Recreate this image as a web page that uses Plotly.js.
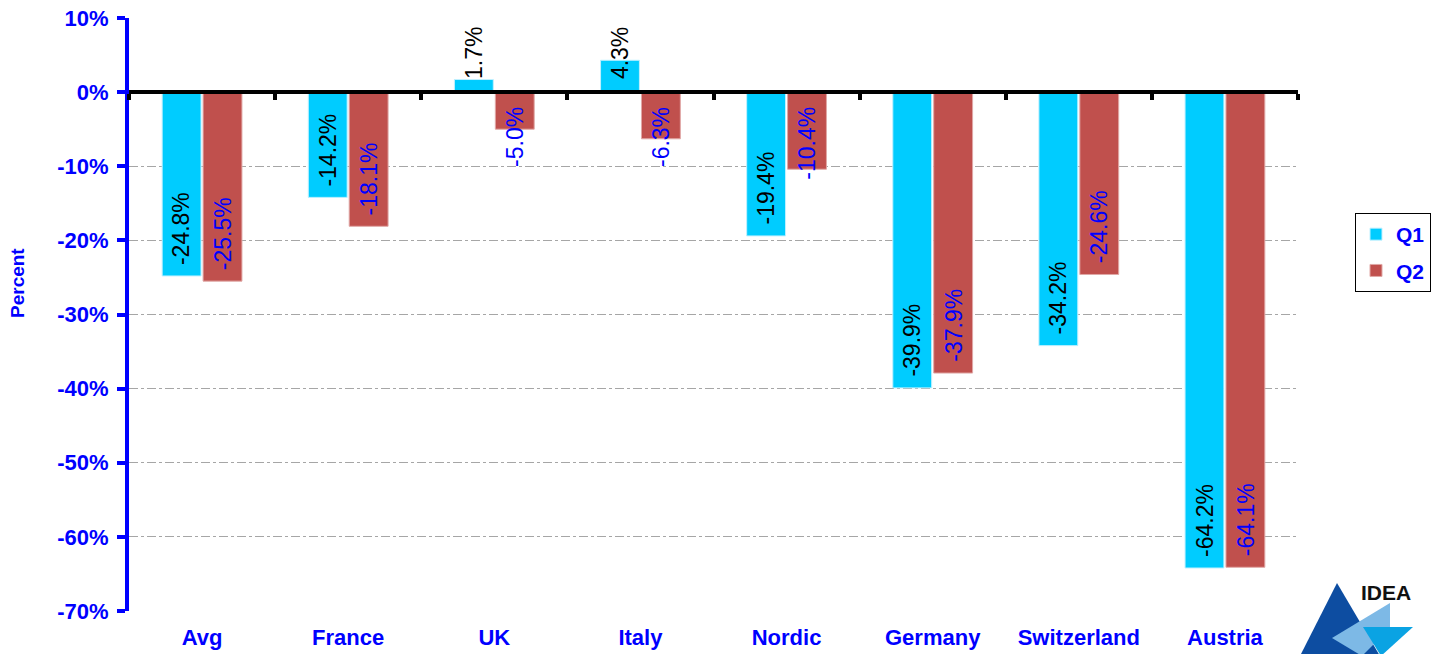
<!DOCTYPE html>
<html>
<head>
<meta charset="utf-8">
<script src="https://cdn.plot.ly/plotly-3.0.1.min.js"></script>
<style>
  html, body { margin: 0; padding: 0; background: #ffffff; }
  #chart { width: 1437px; height: 654px; }
</style>
</head>
<body>
<div id="chart"></div>
<script>
const categories = ["Avg", "France", "UK", "Italy", "Nordic", "Germany", "Switzerland", "Austria"];
const q1Values = [-24.8, -14.2, 1.7, 4.3, -19.4, -39.9, -34.2, -64.2];
const q2Values = [-25.5, -18.1, -5.0, -6.3, -10.4, -37.9, -24.6, -64.1];
const seriesNames = ["Q1", "Q2"];
const yTickValues = [10, 0, -10, -20, -30, -40, -50, -60, -70];
const yTickLabels = ["10%", "0%", "-10%", "-20%", "-30%", "-40%", "-50%", "-60%", "-70%"];

const W = 1437, H = 654;
const margin = { l: 129, r: 139, t: 18, b: 43 };
const plotW = W - margin.l - margin.r;
const plotH = H - margin.t - margin.b;
const yMin = -70, yMax = 10;
const pxPerUnit = plotH / (yMax - yMin);

const BLUE = "#0000FF";
const Q1C = "#00CCFF";
const Q2C = "#C0504D";
const FONT = "Liberation Sans, Arial, sans-serif";

const bargap = 0.44;
const slot = (plotW / categories.length) * (1 - bargap) / 2;

function labelAnn(cat, v, seriesIdx) {
  const txt = v.toFixed(1) + "%";
  const textLen = txt.length * 12.5;
  const barLen = Math.abs(v) * pxPerUnit;
  const ann = {
    x: cat, xref: "x", yref: "y",
    text: txt, showarrow: false, textangle: -90,
    font: { family: FONT, size: 23, color: seriesIdx === 0 ? "#000000" : BLUE },
    xanchor: "center",
    xshift: seriesIdx === 0 ? -slot / 2 : slot / 2
  };
  if (v >= 0) {
    ann.y = 0; ann.yanchor = "bottom"; ann.yshift = 11;
  } else if (barLen >= textLen + 25) {
    ann.y = v; ann.yanchor = "bottom"; ann.yshift = 9;
  } else {
    ann.y = 0; ann.yanchor = "top"; ann.yshift = -13;
  }
  return ann;
}

const annotations = [];
categories.forEach((c, i) => {
  annotations.push(labelAnn(c, q1Values[i], 0));
  annotations.push(labelAnn(c, q2Values[i], 1));
});

// y-axis title
annotations.push({
  xref: "paper", yref: "paper",
  x: (17 - margin.l) / plotW, y: (H - margin.b - 283) / plotH,
  text: "<b>Percent</b>", showarrow: false, textangle: -90,
  font: { family: FONT, size: 19, color: BLUE },
  xanchor: "center", yanchor: "middle"
});

// logo helpers (pixel -> paper)
function px(X) { return (X - margin.l) / plotW; }
function py(Y) { return (H - margin.b - Y) / plotH; }
function poly(pts) {
  return "M" + pts.map(p => px(p[0]) + "," + py(p[1])).join(" L") + " Z";
}
const shapes = [
  { type: "path", xref: "paper", yref: "paper", layer: "above",
    path: poly([[1337, 583], [1300, 656], [1380, 656]]),
    fillcolor: "#0D4DA1", line: { width: 0 } },
  { type: "path", xref: "paper", yref: "paper", layer: "above",
    path: poly([[1390, 603], [1332, 638], [1362, 656], [1390, 628]]),
    fillcolor: "#7DB9E6", line: { width: 0 } },
  { type: "path", xref: "paper", yref: "paper", layer: "above",
    path: poly([[1363, 627], [1413, 627], [1381, 656]]),
    fillcolor: "#0AA3E3", line: { width: 0 } }
];
annotations.push({
  xref: "paper", yref: "paper", x: px(1386), y: py(592),
  text: "<b>IDEA</b>", showarrow: false,
  font: { family: FONT, size: 21, color: "#111111" },
  xanchor: "center", yanchor: "middle"
});

const data = [
  { type: "bar", name: seriesNames[0], x: categories, y: q1Values,
    marker: { color: Q1C, line: { color: "#BFF0FF", width: 1 } }, legendgroup: "a", hoverinfo: "x+y" },
  { type: "bar", name: seriesNames[1], x: categories, y: q2Values,
    marker: { color: Q2C, line: { color: "#E0A8A6", width: 1 } }, legendgroup: "b", hoverinfo: "x+y" },
  { type: "scatter", x: categories, y: categories.map(() => null), xaxis: "x2", yaxis: "y",
    showlegend: false, hoverinfo: "skip", mode: "markers" }
];

const layout = {
  width: W, height: H,
  margin: margin,
  paper_bgcolor: "#ffffff", plot_bgcolor: "#ffffff",
  barmode: "group", bargap: bargap, bargroupgap: 0.05,
  showlegend: true,
  legend: {
    xref: "container", yref: "container",
    x: 1355 / W, y: 1 - 213 / H,
    xanchor: "left", yanchor: "top",
    bgcolor: "#ffffff", bordercolor: "#000000", borderwidth: 1,
    font: { family: FONT, size: 21, color: BLUE, weight: "bold" },
    traceorder: "grouped", tracegroupgap: 6, itemwidth: 30
  },
  xaxis: {
    type: "category", categoryorder: "array", categoryarray: categories,
    range: [-0.5, categories.length - 0.5],
    showline: false, showgrid: false, zeroline: false, ticks: "",
    tickfont: { family: FONT, size: 22, color: BLUE, weight: "bold" },
    ticklabelstandoff: 11, fixedrange: true, automargin: false
  },
  xaxis2: {
    overlaying: "x", matches: "x", anchor: "free",
    position: (0 - yMin) / (yMax - yMin),
    type: "category", categoryorder: "array", categoryarray: categories,
    showline: true, linecolor: "#000000", linewidth: 4,
    ticks: "outside", tickson: "boundaries", ticklen: 6, tickwidth: 4, tickcolor: "#000000",
    showticklabels: false, showgrid: false, zeroline: false
  },
  yaxis: {
    range: [yMin, yMax], tickvals: yTickValues, ticktext: yTickLabels,
    showline: true, linecolor: BLUE, linewidth: 4,
    ticks: "outside", ticklen: 8, tickwidth: 4, tickcolor: BLUE,
    tickfont: { family: FONT, size: 22, color: BLUE, weight: "bold" },
    ticklabelstandoff: 4,
    showgrid: true, gridcolor: "#A6A6A6", gridwidth: 1, griddash: "dashdot",
    zeroline: false, fixedrange: true, automargin: false
  },
  annotations: annotations,
  shapes: shapes
};

Plotly.newPlot("chart", data, layout, { displayModeBar: false, staticPlot: true });
</script>
</body>
</html>
